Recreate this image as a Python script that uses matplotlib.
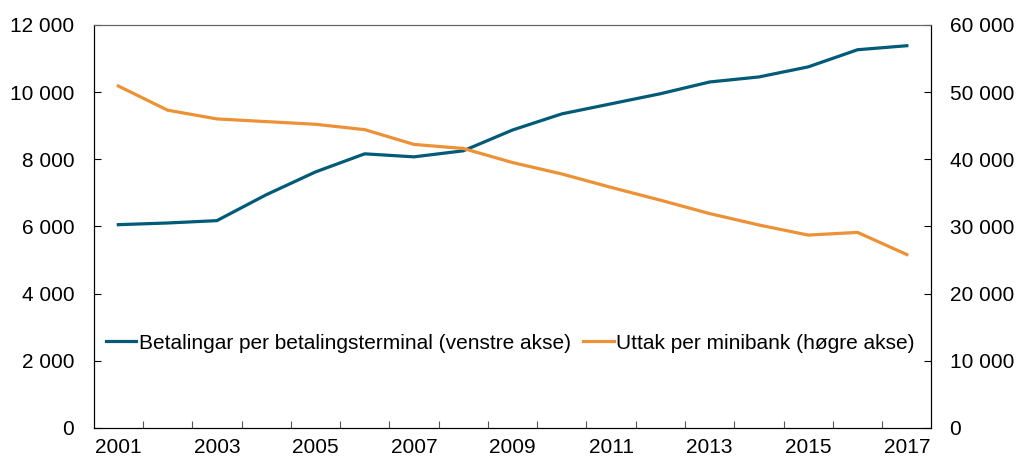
import matplotlib
matplotlib.use("Agg")
import matplotlib.pyplot as plt
from matplotlib.ticker import FuncFormatter, MultipleLocator

# Data
years = list(range(2001, 2018))
betalingar = [6050, 6100, 6170, 6940, 7620, 8160, 8070, 8250, 8870, 9350,
              9650, 9950, 10300, 10450, 10750, 11260, 11380]
uttak = [50900, 47300, 46000, 45600, 45200, 44400, 42200, 41600, 39500, 37800,
         35800, 33900, 31900, 30200, 28700, 29100, 25800]

plt.rcParams['font.family'] = ['Liberation Sans', 'DejaVu Sans']
plt.rcParams['font.size'] = 15

blue = '#005A78'
orange = '#EC9136'

def fmt(v, pos):
    return f"{int(v):,}".replace(",", " ")

fig, ax = plt.subplots(figsize=(10.18, 4.61), dpi=100)
fig.subplots_adjust(left=0.092, right=0.915, top=0.946, bottom=0.072)
ax2 = ax.twinx()

x = list(range(len(years)))
l1, = ax.plot(x, betalingar, color=blue, lw=2.3, label='Betalingar per betalingsterminal (venstre akse)')
l2, = ax2.plot(x, uttak, color=orange, lw=2.3, label='Uttak per minibank (høgre akse)')

ax.set_xlim(-0.5, len(years) - 0.5)
ax.set_ylim(0, 12000)
ax2.set_ylim(0, 60000)
ax.yaxis.set_major_locator(MultipleLocator(2000))
ax2.yaxis.set_major_locator(MultipleLocator(10000))
ax.yaxis.set_major_formatter(FuncFormatter(fmt))
ax2.yaxis.set_major_formatter(FuncFormatter(fmt))

# ticks between categories, labels every other year
ax.set_xticks([i + 0.5 for i in range(len(years) - 1)])
ax.set_xticklabels([])
ax.set_xticks(x[::2], minor=True)
ax.set_xticklabels([str(y) for y in years[::2]], minor=True)
ax.tick_params(axis='x', which='minor', length=0, pad=7)
ax.tick_params(axis='x', which='major', direction='in', length=5, color='#555555')
ax.tick_params(axis='y', direction='in', length=5, pad=14)
ax2.tick_params(axis='y', direction='in', length=5, pad=13)

for a in (ax, ax2):
    a.spines['top'].set_color('#666666')
    a.spines['left'].set_color('black')
    a.spines['right'].set_color('black')
    a.spines['bottom'].set_color('black')

ax.legend(handles=[l1, l2], loc='center left', bbox_to_anchor=(0.005, 0.21), ncol=2,
          frameon=False, handlelength=1.45, handletextpad=0.12, columnspacing=0.6,
          borderaxespad=0, fontsize=15)

plt.savefig("out.png", dpi=100)
